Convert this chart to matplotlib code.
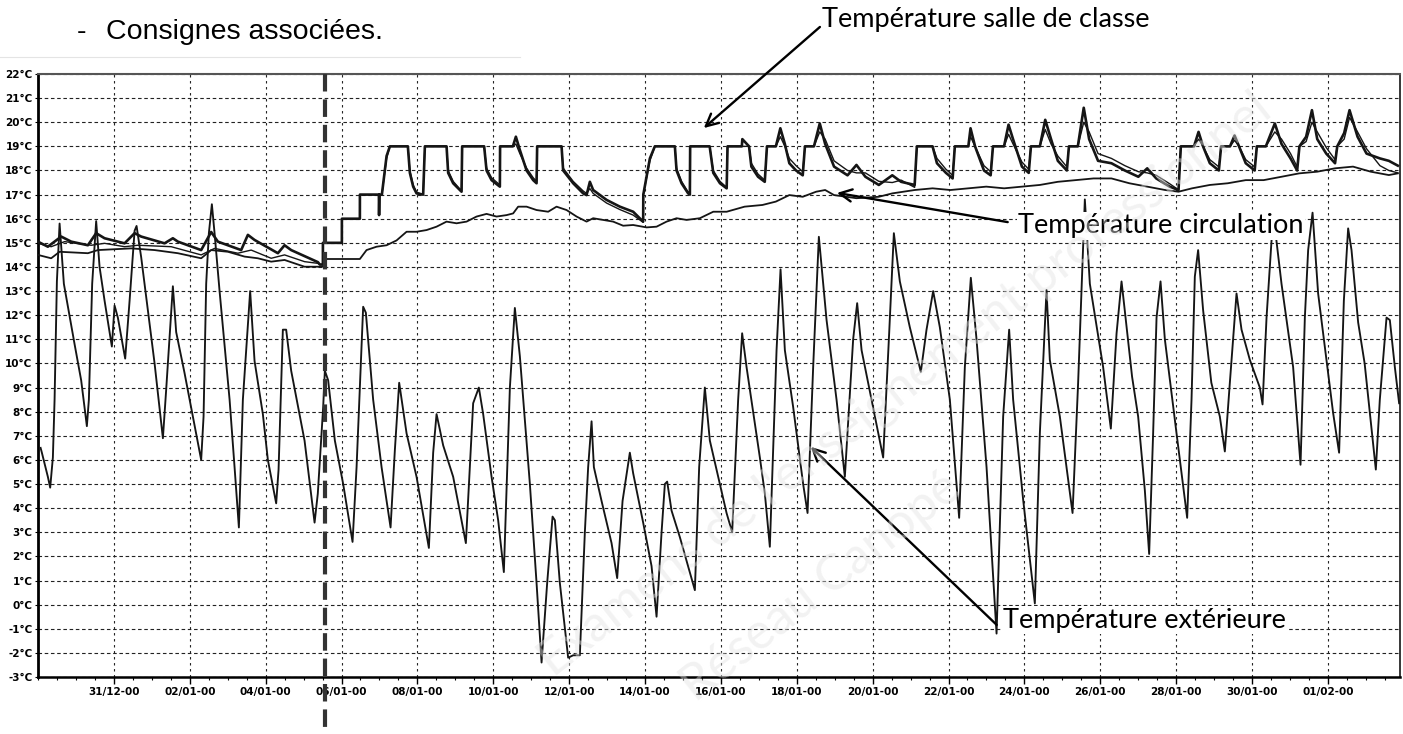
import matplotlib
matplotlib.use("Agg")
import matplotlib.pyplot as plt
from matplotlib import font_manager
from matplotlib.lines import Line2D
from matplotlib.ticker import FixedLocator, MultipleLocator

# x values are days counted from 31/12 00:00
EXT_DAY = [
    -1.932, -1.898, -1.740, -1.679, -1.608, -1.563, -1.502, -1.431, -1.318, -1.036,
    -0.862, -0.712, -0.659, -0.572, -0.467, -0.377, -0.245, -0.053, 0.018, 0.105,
    0.298, 0.414, 0.546, 0.598, 0.720, 0.896, 1.073, 1.292, 1.378, 1.555,
    1.642, 1.863, 2.082, 2.301, 2.364, 2.433, 2.504, 2.583, 2.654, 2.786,
    3.050, 3.181, 3.295, 3.400, 3.592, 3.708, 3.927, 4.059, 4.278, 4.341,
    4.454, 4.541, 4.673, 5.026, 5.290, 5.375, 5.517, 5.561, 5.648, 5.825,
    6.044, 6.291, 6.397, 6.571, 6.642, 6.834, 7.056, 7.293, 7.406, 7.520,
    7.715, 7.978, 8.303, 8.416, 8.505, 8.680, 8.943, 9.278, 9.470, 9.620,
    9.734, 9.955, 10.129, 10.279, 10.438, 10.569, 10.701, 10.965, 11.141, 11.273,
    11.421, 11.563, 11.624, 11.755, 11.974, 12.106, 12.282, 12.414, 12.501, 12.591,
    12.652, 12.854, 13.118, 13.266, 13.408, 13.600, 13.687, 13.951, 14.172, 14.304,
    14.436, 14.523, 14.584, 14.699, 14.918, 15.314, 15.427, 15.577, 15.709, 15.972,
    16.149, 16.297, 16.455, 16.560, 16.676, 17.027, 17.159, 17.290, 17.467, 17.572,
    17.686, 17.904, 18.168, 18.284, 18.432, 18.582, 18.785, 19.048, 19.267, 19.486,
    19.592, 19.708, 19.971, 20.277, 20.435, 20.559, 20.717, 20.980, 21.270, 21.420,
    21.595, 21.771, 22.035, 22.280, 22.430, 22.588, 22.738, 23.002, 23.266, 23.440,
    23.598, 23.703, 23.967, 24.275, 24.407, 24.583, 24.670, 24.934, 25.269, 25.416,
    25.593, 25.725, 26.075, 26.278, 26.429, 26.560, 26.617, 26.838, 26.998, 27.174,
    27.288, 27.393, 27.483, 27.588, 27.702, 28.010, 28.290, 28.405, 28.492, 28.579,
    28.711, 28.927, 29.151, 29.283, 29.415, 29.591, 29.723, 29.942, 30.205, 30.277,
    30.382, 30.514, 30.601, 30.777, 31.083, 31.278, 31.392, 31.479, 31.595, 31.742,
    31.963, 32.137, 32.295, 32.420, 32.533, 32.622, 32.797, 32.968, 33.263, 33.368,
    33.545, 33.632, 33.764, 33.877,
]
EXT_T = [
    6.5, 6.3, 5.3, 4.85, 6.1, 8.5, 13.4, 15.8, 13.3, 10.8,
    9.3, 7.4, 8.5, 13.3, 15.9, 14.0, 12.6, 10.7, 12.4, 11.9,
    10.2, 12.6, 15.5, 15.7, 14.4, 12.2, 10.0, 6.9, 8.9, 13.2,
    11.3, 9.6, 7.8, 6.0, 7.8, 13.3, 15.4, 16.6, 15.4, 13.0,
    8.5, 5.7, 3.2, 8.5, 13.0, 10.1, 7.9, 6.0, 4.2, 5.6,
    11.4, 11.4, 9.7, 6.8, 3.4, 4.6, 8.2, 9.7, 9.3, 6.8,
    5.0, 2.6, 5.7, 12.35, 12.1, 8.5, 5.7, 3.2, 6.4, 9.2,
    7.1, 5.3, 2.35, 6.3, 7.9, 6.6, 5.3, 2.55, 8.35, 9.0,
    7.9, 5.3, 3.5, 1.35, 9.0, 12.3, 10.3, 5.0, 0.9, -2.4,
    0.9, 3.65, 3.5, 0.9, -2.2, -2.1, -2.1, 3.0, 5.7, 7.6,
    5.7, 4.3, 2.55, 1.1, 4.3, 6.3, 5.45, 3.4, 1.6, -0.5,
    3.0, 5.0, 5.1, 3.9, 2.8, 0.6, 5.7, 9.0, 6.8, 5.0,
    3.8, 3.0, 8.5, 11.25, 9.85, 6.1, 4.6, 2.4, 10.55, 13.9,
    10.55, 8.2, 5.0, 3.8, 9.85, 15.25, 11.8, 8.5, 5.3, 11.0,
    12.5, 10.55, 8.5, 6.1, 11.25, 15.4, 13.4, 11.5, 9.65, 11.4,
    13.0, 11.5, 8.5, 3.6, 9.85, 13.55, 11.0, 5.7, -1.2, 7.8,
    11.4, 8.5, 4.35, 0.05, 7.1, 13.05, 10.15, 7.8, 3.8, 9.2,
    16.8, 13.3, 9.85, 7.3, 11.25, 13.4, 12.6, 9.45, 7.8, 4.75,
    2.1, 7.1, 11.9, 13.4, 11.0, 7.1, 3.6, 8.5, 13.6, 14.7,
    12.2, 9.2, 7.8, 6.35, 9.2, 12.9, 11.4, 10.15, 9.0, 8.3,
    11.9, 15.1, 15.65, 13.3, 9.85, 5.8, 11.9, 14.7, 16.25, 12.9,
    10.15, 7.95, 6.3, 12.6, 15.6, 14.7, 11.7, 10.0, 5.6, 8.5,
    11.9, 11.8, 9.85, 8.35,
]

CIRC_DAY = [
    -2.003, -1.653, -1.431, -0.685, -0.422, 0.456, 1.073, 1.687, 2.301, 2.565,
    3.005, 3.445, 3.795, 4.146, 4.499, 5.026, 5.509, 5.606, 6.484, 6.660,
    6.924, 7.188, 7.451, 7.715, 7.978, 8.242, 8.505, 8.769, 9.033, 9.296,
    9.560, 9.823, 10.087, 10.351, 10.524, 10.656, 10.878, 11.141, 11.447, 11.668,
    11.932, 12.196, 12.459, 12.633, 12.897, 13.160, 13.424, 13.687, 14.040, 14.304,
    14.568, 14.831, 15.095, 15.445, 15.799, 16.152, 16.624, 17.095, 17.449, 17.804,
    18.157, 18.511, 18.748, 18.983, 19.573, 20.163, 20.517, 21.107, 21.579, 22.050,
    22.522, 22.994, 23.466, 23.935, 24.407, 24.879, 25.351, 25.822, 26.294, 26.766,
    27.238, 27.710, 28.062, 28.419, 28.888, 29.362, 29.834, 30.306, 30.777, 31.242,
    31.719, 32.190, 32.662, 33.129, 33.606, 33.843,
]
CIRC_T = [
    14.5, 14.36, 14.63, 14.57, 14.7, 14.77, 14.7, 14.57, 14.36, 14.7,
    14.63, 14.43, 14.36, 14.22, 14.29, 14.01, 14.01, 14.33, 14.33, 14.7,
    14.84, 14.9, 15.1, 15.46, 15.46, 15.53, 15.67, 15.88, 15.81, 15.88,
    16.09, 16.2, 16.09, 16.15, 16.22, 16.5, 16.5, 16.36, 16.29, 16.5,
    16.36, 16.09, 15.88, 16.02, 15.95, 15.88, 15.71, 15.74, 15.64, 15.67,
    15.88, 16.02, 15.95, 16.02, 16.29, 16.29, 16.5, 16.57, 16.71, 16.98,
    16.91, 17.12, 17.19, 16.98, 16.85, 16.91, 17.05, 17.19, 17.26, 17.19,
    17.26, 17.33, 17.26, 17.33, 17.4, 17.53, 17.6, 17.67, 17.67, 17.47,
    17.33, 17.19, 17.12, 17.26, 17.4, 17.47, 17.6, 17.6, 17.74, 17.88,
    17.95, 18.09, 18.16, 17.95, 17.81, 17.88,
]

# classroom readings before the heating restart
ROOM1_PRE_DAY = [
    -2.003, -1.740, -1.389, -1.125, -0.685, -0.467, -0.245, 0.282, 0.546, 0.720,
    1.336, 1.555, 1.687, 2.301, 2.565, 2.741, 3.355, 3.532, 3.708, 4.323,
    4.499, 4.673, 5.377, 5.430,
]
ROOM1_PRE_T = [
    15.05, 14.84, 15.26, 15.05, 14.9, 15.4, 15.19, 14.98, 15.4, 15.26,
    14.98, 15.19, 15.05, 14.7, 15.45, 15.05, 14.7, 15.33, 15.12, 14.57,
    14.9, 14.7, 14.2, 14.1,
]
ROOM2_PRE_DAY = [
    -2.003, -1.653, -1.299, -0.598, -0.245, 0.282, 0.633, 1.510, 2.301, 2.654,
    3.268, 3.619, 4.146, 4.499, 5.026, 5.377, 5.430,
]
ROOM2_PRE_T = [
    14.98, 14.84, 15.05, 14.9, 14.98, 14.84, 14.9, 14.84, 14.5, 14.77,
    14.57, 14.7, 14.36, 14.5, 14.22, 14.15, 14.1,
]

# classroom readings once the setpoints are active
HEAT_DAY = [
    5.509, 5.510, 6.009, 6.010, 6.484, 6.485, 6.985, 6.990, 7.000, 7.064,
    7.188, 7.275, 7.749, 7.802, 7.889, 7.978, 8.152, 8.197, 8.769, 8.811,
    8.943, 9.164, 9.180, 9.760, 9.823, 9.955, 10.174, 10.180, 10.517, 10.596,
    10.701, 10.878, 11.052, 11.141, 11.157, 11.800, 11.842, 12.106, 12.370, 12.459,
    12.546, 12.633, 12.986, 13.337, 13.687, 13.951, 13.955, 14.128, 14.259, 14.787,
    14.831, 14.963, 15.137, 15.182, 15.190, 15.704, 15.799, 15.975, 16.152, 16.175,
    16.552, 16.565, 16.742, 16.803, 16.979, 17.156, 17.214, 17.449, 17.567, 17.686,
    17.804, 17.981, 18.157, 18.215, 18.453, 18.606, 18.748, 18.983, 19.338, 19.573,
    19.808, 20.163, 20.517, 20.751, 21.107, 21.165, 21.579, 21.695, 21.932, 22.108,
    22.166, 22.522, 22.580, 22.699, 22.934, 23.110, 23.171, 23.463, 23.582, 23.700,
    23.935, 24.114, 24.172, 24.407, 24.549, 24.702, 24.881, 25.119, 25.174, 25.408,
    25.564, 25.706, 25.941, 26.294, 26.647, 27.003, 27.238, 27.475, 27.828, 28.062,
    28.123, 28.471, 28.590, 28.709, 28.888, 29.125, 29.185, 29.420, 29.539, 29.657,
    29.834, 30.069, 30.127, 30.364, 30.601, 30.777, 31.015, 31.189, 31.249, 31.426,
    31.579, 31.719, 31.956, 32.188, 32.246, 32.428, 32.570, 32.781, 33.018, 33.371,
    33.606, 33.843,
]
ROOM1_HEAT_T = [
    14.1, 15.0, 15.0, 16.0, 16.0, 17.0, 17.0, 16.15, 17.0, 17.0,
    18.6, 19.0, 19.0, 17.9, 17.33, 17.05, 17.0, 19.0, 19.0, 17.9,
    17.47, 17.12, 19.0, 19.0, 18.0, 17.6, 17.33, 19.0, 19.0, 19.4,
    18.85, 18.0, 17.6, 17.47, 19.0, 19.0, 18.0, 17.47, 17.05, 16.98,
    17.53, 17.19, 16.78, 16.5, 16.29, 15.88, 17.0, 18.5, 19.0, 19.0,
    18.0, 17.47, 17.05, 17.0, 19.0, 19.0, 17.9, 17.47, 17.26, 19.0,
    19.0, 19.3, 19.0, 18.16, 17.74, 17.53, 19.0, 19.0, 19.75, 19.1,
    18.3, 18.0, 17.8, 19.0, 19.0, 19.95, 19.1, 18.16, 17.8, 18.23,
    17.74, 17.4, 17.8, 17.53, 17.4, 19.0, 19.0, 18.3, 17.9, 17.67,
    19.0, 19.0, 19.75, 19.0, 18.0, 17.8, 19.0, 19.0, 19.9, 19.3,
    18.16, 17.9, 19.0, 19.0, 20.1, 19.3, 18.4, 18.0, 19.0, 19.0,
    20.6, 19.3, 18.4, 18.3, 18.0, 17.74, 18.09, 17.67, 17.33, 17.19,
    19.0, 19.0, 19.6, 19.0, 18.3, 18.0, 19.0, 19.0, 19.45, 19.0,
    18.3, 18.0, 19.0, 19.0, 19.95, 19.1, 18.5, 18.0, 19.0, 19.4,
    20.5, 19.3, 18.7, 18.3, 19.0, 19.55, 20.5, 19.4, 18.7, 18.5,
    18.4, 18.2,
]
ROOM2_HEAT_T = [
    14.1, 15.0, 15.0, 16.0, 16.0, 17.0, 17.0, 17.0, 17.0, 17.0,
    18.5, 19.0, 19.0, 18.0, 17.4, 17.1, 17.0, 19.0, 19.0, 18.0,
    17.55, 17.15, 19.0, 19.0, 18.1, 17.7, 17.4, 19.0, 19.0, 19.1,
    18.7, 18.1, 17.7, 17.55, 19.0, 19.0, 18.1, 17.55, 17.15, 17.05,
    17.25, 17.05, 16.65, 16.38, 16.15, 15.85, 17.0, 18.4, 19.0, 19.0,
    18.1, 17.55, 17.1, 17.0, 19.0, 19.0, 18.0, 17.55, 17.3, 19.0,
    19.0, 19.0, 19.0, 18.3, 17.85, 17.6, 19.0, 19.0, 19.4, 19.0,
    18.5, 18.2, 17.95, 19.0, 19.0, 19.6, 19.3, 18.4, 18.0, 17.9,
    17.9, 17.55, 17.5, 17.6, 17.3, 19.0, 19.0, 18.5, 18.05, 17.8,
    19.0, 19.0, 19.4, 19.0, 18.2, 17.95, 19.0, 19.0, 19.5, 19.1,
    18.35, 18.05, 19.0, 19.0, 19.7, 19.1, 18.6, 18.15, 19.0, 19.0,
    20.0, 19.6, 18.7, 18.5, 18.2, 17.95, 17.9, 17.8, 17.45, 17.2,
    19.0, 19.0, 19.3, 19.0, 18.45, 18.15, 19.0, 19.0, 19.25, 19.0,
    18.45, 18.15, 19.0, 19.0, 19.6, 19.3, 18.7, 18.15, 19.0, 19.2,
    20.0, 19.6, 18.95, 18.45, 19.0, 19.3, 20.2, 19.6, 18.9, 18.2,
    18.0, 17.9,
]

TICK_DAYS = list(range(0, 33, 2))
TICK_LABELS = [
    "31/12-00", "02/01-00", "04/01-00", "06/01-00", "08/01-00", "10/01-00",
    "12/01-00", "14/01-00", "16/01-00", "18/01-00", "20/01-00", "22/01-00",
    "24/01-00", "26/01-00", "28/01-00", "30/01-00", "01/02-00",
]
Y_TICKS = list(range(-3, 23))
START_DAY = 5.56  # heating restart marker

installed = {f.name for f in font_manager.fontManager.ttflist}
tick_font = "Liberation Sans Narrow" if "Liberation Sans Narrow" in installed else "DejaVu Sans"
note_font = ["Lato", "DejaVu Sans"]
body_font = ["Liberation Sans", "DejaVu Sans"]

fig = plt.figure(figsize=(14.03, 7.34), dpi=100)
ax = fig.add_axes([38 / 1403, 1 - 677 / 734, 1362 / 1403, 603 / 734])

ink = "#151515"
ax.plot(EXT_DAY, EXT_T, color=ink, lw=1.35, zorder=3)
ax.plot(CIRC_DAY, CIRC_T, color=ink, lw=1.3, zorder=3)
ax.plot(ROOM2_PRE_DAY + HEAT_DAY, ROOM2_PRE_T + ROOM2_HEAT_T, color=ink, lw=1.0, zorder=3)
ax.plot(ROOM1_PRE_DAY + HEAT_DAY, ROOM1_PRE_T + ROOM1_HEAT_T, color=ink, lw=1.9, zorder=4)

ax.set_xlim(-2.0, 33.9)
ax.set_ylim(-3, 22)

for y in Y_TICKS:
    ax.axhline(y, color="#222222", lw=0.8, linestyle=(0, (3.2, 2.4)), zorder=1)
for d in [-2] + TICK_DAYS:
    ax.axvline(d, color="#222222", lw=0.8, linestyle=(0, (2.2, 3.2)), zorder=1)

ax.xaxis.set_major_locator(FixedLocator(TICK_DAYS))
ax.set_xticklabels(TICK_LABELS)
ax.xaxis.set_minor_locator(MultipleLocator(0.5))
ax.set_yticks(Y_TICKS)
ax.set_yticklabels([f"{v}°C" for v in Y_TICKS])
ax.tick_params(axis="x", which="major", length=5, width=1.0, pad=2, labelsize=7.5)
ax.tick_params(axis="x", which="minor", length=2.5, width=0.8)
ax.tick_params(axis="y", length=2.5, width=0.8, pad=1.5, labelsize=7.5)
for lab in ax.get_xticklabels() + ax.get_yticklabels():
    lab.set_family(tick_font)
    lab.set_fontweight("bold")

ax.spines["left"].set_linewidth(2.0)
ax.spines["bottom"].set_linewidth(1.8)
ax.spines["top"].set_linewidth(1.5)
ax.spines["top"].set_color("#555555")
ax.spines["right"].set_linewidth(1.1)

# heating restart marker, running below the axis
ax.plot([START_DAY, START_DAY], [22.0, -5.3], color="#333333", lw=3.0,
        linestyle=(0, (4.2, 1.9)), clip_on=False, zorder=7)

arrow = dict(arrowstyle="->", lw=1.7, color="black", mutation_scale=22, shrinkA=0, shrinkB=0)
ax.annotate("", xy=(15.55, 19.76), xytext=(18.61, 23.95), arrowprops=arrow, annotation_clip=False, zorder=8)
ax.annotate("", xy=(19.06, 17.07), xytext=(23.56, 15.86), arrowprops=arrow, annotation_clip=False, zorder=8)
ax.annotate("", xy=(18.37, 6.54), xytext=(23.27, -0.84), arrowprops=arrow, annotation_clip=False, zorder=8)

box = dict(facecolor="white", edgecolor="none", pad=1.0)
ax.text(18.66, 24.24, "Température salle de classe", family=note_font, fontsize=19.5,
        ha="left", va="center", zorder=9)
ax.text(23.83, 15.70, "Température circulation", family=note_font, fontsize=19.5,
        ha="left", va="center", bbox=box, zorder=9)
ax.text(23.43, -0.64, "Température extérieure", family=note_font, fontsize=19.5,
        ha="left", va="center", bbox=box, zorder=9)

fig.text(77 / 1403, 1 - 39 / 734, "-", family=body_font, fontsize=20.5, ha="left", va="baseline")
fig.text(106 / 1403, 1 - 39 / 734, "Consignes associées.", family=body_font,
         fontsize=20.5, ha="left", va="baseline")
fig.add_artist(Line2D([0, 520 / 1403], [1 - 57 / 734] * 2, color="#e4e4e4", lw=0.8))

# faint watermark of the source document
fig.text(0.645, 0.475, "Examens de l'enseignement professionnel", fontsize=36, rotation=38,
         color="#e2e2e2", alpha=0.45, ha="center", va="center", family=note_font, zorder=20)
fig.text(0.585, 0.2, "Réseau Canopé", fontsize=36, rotation=38,
         color="#e2e2e2", alpha=0.45, ha="center", va="center", family=note_font, zorder=20)

fig.savefig("out.png", dpi=100)
